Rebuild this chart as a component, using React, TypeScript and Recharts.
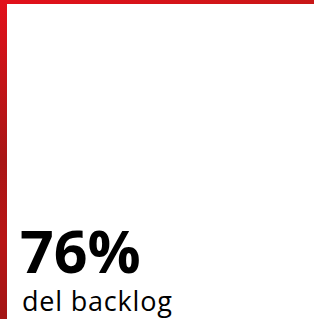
import React from 'react';
import { BarChart, Bar, XAxis, YAxis, Label } from 'recharts';

const categories = ['del backlog'];
const values = [76];
const unit = '%';

const chartData = categories.map((name, i) => ({ name, value: values[i] }));

const W = 314;
const H = 319;

const App: React.FC = () => {
  React.useEffect(() => {
    document.body.style.margin = '0';
  }, []);

  return (
    <div style={{ position: 'relative', width: W, height: H, background: '#fff', overflow: 'hidden' }}>
      {/* red frame, top and left */}
      <div
        style={{
          position: 'absolute',
          left: 0,
          top: 0,
          width: W,
          height: 4,
          background: 'linear-gradient(90deg, #e2101a 0%, #d41419 60%, #c81717 100%)'
        }}
      />
      <div
        style={{
          position: 'absolute',
          left: 0,
          top: 0,
          width: 7,
          height: H,
          background: 'linear-gradient(180deg, #e2101a 0%, #c41418 25%, #a91616 50%, #b81515 75%, #a31515 100%)'
        }}
      />
      <BarChart
        width={W}
        height={H}
        data={chartData}
        margin={{ top: 0, right: 0, left: 0, bottom: 0 }}
        style={{ position: 'absolute', left: 0, top: 0 }}
      >
        <XAxis dataKey="name" hide />
        <YAxis domain={[0, 100]} hide />
        <Bar dataKey="value" fill="transparent" isAnimationActive={false}>
          <Label
            position="insideBottomLeft"
            content={() => (
              <g>
                <text
                  x={20}
                  y={273}
                  fontFamily="'Open Sans', sans-serif"
                  fontWeight={700}
                  fontSize={59}
                  fill="#000"
                >
                  {`${values[0]}${unit}`}
                </text>
                <text
                  x={22}
                  y={311}
                  fontFamily="'Open Sans', sans-serif"
                  fontSize={27}
                  letterSpacing={0.8}
                  fill="#000"
                >
                  {categories[0]}
                </text>
              </g>
            )}
          />
        </Bar>
      </BarChart>
    </div>
  );
};

export default App;
